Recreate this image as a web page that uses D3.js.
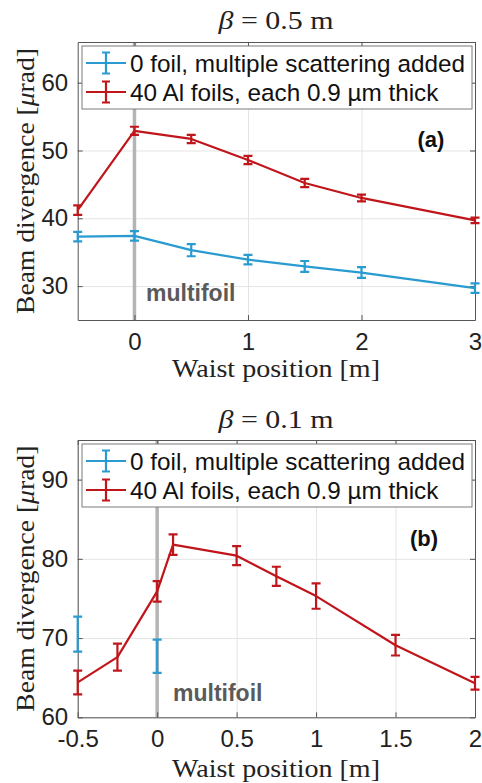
<!DOCTYPE html>
<html>
<head>
<meta charset="utf-8">
<script src="https://cdn.jsdelivr.net/npm/d3@7/dist/d3.min.js"></script>
<style>
  body { margin: 0; background: #fff; }
  svg { display: block; }
</style>
</head>
<body>
<div id="chart"></div>
<script>
// panel (a): beta = 0.5 m
const xA = [-0.5, 0, 0.5, 1, 1.5, 2, 3]
const blueA = [37.3, 37.4, 35.3, 33.9, 32.9, 32.0, 29.7]
const blueErrA = [0.7, 0.7, 0.9, 0.7, 0.8, 0.8, 0.7]
const redA = [41.2, 52.9, 51.7, 48.6, 45.2, 43.0, 39.7]
const redErrA = [0.7, 0.6, 0.6, 0.6, 0.6, 0.5, 0.4]
const xTicksA = [0, 1, 2, 3]
const yTicksA = [30, 40, 50, 60]

// panel (b): beta = 0.1 m
const xBlueB = [-0.5, 0]
const blueB = [70.5, 67.7]
const blueErrB = [2.2, 2.1]
const xRedB = [-0.5, -0.25, 0, 0.1, 0.5, 0.75, 1, 1.5, 2]
const redB = [64.4, 67.6, 75.9, 81.8, 80.4, 77.8, 75.3, 69.1, 64.3]
const redErrB = [1.5, 1.7, 1.3, 1.3, 1.2, 1.2, 1.6, 1.3, 0.8]
const xTicksB = [-0.5, 0, 0.5, 1, 1.5, 2]
const yTicksB = [60, 70, 80, 90]

const legendLabels = ["0 foil, multiple scattering added", "40 Al foils, each 0.9 \u00b5m thick"]

const BLUE = "#2a9bd1"
const RED = "#c0161b"
const SANS = "'Liberation Sans', Arial, Helvetica, sans-serif"
const SERIF = "'Liberation Serif', 'DejaVu Serif', serif"

const svg = d3.select("#chart").append("svg")
    .attr("width", 482)
    .attr("height", 783)

const zip = (xs, ys, es) => xs.map((x, i) => ({ x, y: ys[i], e: es[i] }))

function drawPanel(opt){
    const { top, bottom, left, right } = opt
    const x = d3.scaleLinear().domain(opt.xDomain).range([left, right])
    const y = d3.scaleLinear().domain(opt.yDomain).range([bottom, top])
    const g = svg.append("g")

    // title
    const title = g.append("text")
        .attr("x", 276).attr("y", opt.titleY)
        .attr("text-anchor", "middle")
        .attr("textLength", 115).attr("lengthAdjust", "spacingAndGlyphs")
        .style("font-family", SERIF).style("font-size", "25px").style("fill", "#222")
    title.append("tspan").style("font-style", "italic").text("\u03b2")
    title.append("tspan").text(" = " + opt.beta + " m")

    // grid
    g.append("g").attr("transform", `translate(0,${bottom})`)
        .call(d3.axisBottom(x).tickValues(opt.xTicks).tickSize(-(bottom - top)).tickFormat(""))
        .call(a => a.select(".domain").remove())
        .call(a => a.selectAll("line").attr("stroke", "#e4e4e4").attr("stroke-width", 1))
    g.append("g").attr("transform", `translate(${left},0)`)
        .call(d3.axisLeft(y).tickValues(opt.yTicks).tickSize(-(right - left)).tickFormat(""))
        .call(a => a.select(".domain").remove())
        .call(a => a.selectAll("line").attr("stroke", "#e4e4e4").attr("stroke-width", 1))

    // multifoil marker at waist 0
    g.append("line")
        .attr("x1", x(0)).attr("x2", x(0))
        .attr("y1", top).attr("y2", bottom)
        .attr("stroke", "#b4b4b4").attr("stroke-width", 3.5)
    g.append("text")
        .attr("x", opt.mfX).attr("y", opt.mfY)
        .style("font-family", SANS).style("font-size", "23px").style("font-weight", "bold")
        .style("fill", "#5a5a5a")
        .text("multifoil")

    // axes (inward ticks, MATLAB box)
    const fmt = d => String(d)
    const styleAxis = a => {
        a.select(".domain").attr("stroke", "#555")
        a.selectAll(".tick line").attr("stroke", "#555")
        a.selectAll("text").style("font-family", SANS).style("font-size", "24px").attr("fill", "#222")
    }
    g.append("g").attr("transform", `translate(0,${bottom})`)
        .call(d3.axisBottom(x).tickValues(opt.xTicks).tickSizeInner(-5).tickSizeOuter(0).tickPadding(13).tickFormat(fmt))
        .call(styleAxis)
    g.append("g").attr("transform", `translate(0,${top})`)
        .call(d3.axisTop(x).tickValues(opt.xTicks).tickSizeInner(-5).tickSizeOuter(0).tickFormat(""))
        .call(styleAxis)
    g.append("g").attr("transform", `translate(${left},0)`)
        .call(d3.axisLeft(y).tickValues(opt.yTicks).tickSizeInner(-5).tickSizeOuter(0).tickPadding(9.5).tickFormat(fmt))
        .call(styleAxis)
    g.append("g").attr("transform", `translate(${right},0)`)
        .call(d3.axisRight(y).tickValues(opt.yTicks).tickSizeInner(-5).tickSizeOuter(0).tickFormat(""))
        .call(styleAxis)

    // series
    const line = d3.line().x(d => x(d.x)).y(d => y(d.y))
    opt.series.forEach(s => {
        if (s.line) {
            g.append("path").datum(s.data)
                .attr("fill", "none").attr("stroke", s.color).attr("stroke-width", 2.2)
                .attr("stroke-linejoin", "round")
                .attr("d", line)
        }
        const eb = g.append("g").attr("stroke", s.color).attr("stroke-width", 2.2).attr("fill", "none")
        eb.selectAll("path").data(s.data).enter().append("path")
            .attr("d", d => {
                const cx = x(d.x), y0 = y(d.y - d.e), y1 = y(d.y + d.e), c = 4.5
                return `M${cx},${y0}V${y1}M${cx - c},${y0}H${cx + c}M${cx - c},${y1}H${cx + c}`
            })
    })

    // panel tag
    g.append("text")
        .attr("x", opt.tagX).attr("y", opt.tagY)
        .attr("text-anchor", "middle")
        .style("font-family", SANS).style("font-size", "22px").style("font-weight", "bold")
        .style("fill", "#111")
        .text(opt.tag)

    // legend
    const lg = g.append("g").attr("transform", `translate(82,${top + 4})`)
    lg.append("rect")
        .attr("width", 390).attr("height", 63)
        .attr("fill", "#fff").attr("stroke", "#7a7a7a").attr("stroke-width", 1)
    ;[BLUE, RED].forEach((c, i) => {
        const cy = 17 + i * 29
        const row = lg.append("g").attr("stroke", c).attr("stroke-width", 2.2)
        row.append("line").attr("x1", 4).attr("x2", 44).attr("y1", cy).attr("y2", cy)
        row.append("path").attr("fill", "none")
            .attr("d", `M24,${cy - 10.5}V${cy + 10.5}M20,${cy - 10.5}H28M20,${cy + 10.5}H28`)
        lg.append("text")
            .attr("x", 48).attr("y", cy + 8.5)
            .style("font-family", SANS).style("font-size", "24.3px").style("fill", "#111")
            .text(legendLabels[i])
    })

    // x label
    g.append("text")
        .attr("x", 276).attr("y", opt.xLabelY)
        .attr("text-anchor", "middle")
        .attr("textLength", 208).attr("lengthAdjust", "spacingAndGlyphs")
        .style("font-family", SERIF).style("font-size", "25px").style("fill", "#222")
        .text("Waist position [m]")

    // y label
    const yl = g.append("text")
        .attr("transform", `translate(34,${(top + bottom) / 2}) rotate(-90)`)
        .attr("text-anchor", "middle")
        .attr("textLength", 266).attr("lengthAdjust", "spacingAndGlyphs")
        .style("font-family", SERIF).style("font-size", "25px").style("fill", "#222")
    yl.append("tspan").text("Beam divergence [")
    yl.append("tspan").style("font-style", "italic").text("\u03bc")
    yl.append("tspan").text("rad]")
}

drawPanel({
    top: 42, bottom: 320, left: 77.7, right: 475,
    xDomain: [-0.5, 3], yDomain: [25, 66],
    xTicks: xTicksA, yTicks: yTicksA,
    beta: "0.5", titleY: 29, xLabelY: 377,
    mfX: 146, mfY: 301, tag: "(a)", tagX: 431, tagY: 147,
    series: [
        { color: BLUE, line: true, data: zip(xA, blueA, blueErrA) },
        { color: RED, line: true, data: zip(xA, redA, redErrA) }
    ]
})

drawPanel({
    top: 440, bottom: 717.3, left: 77.7, right: 475,
    xDomain: [-0.5, 2], yDomain: [60, 95],
    xTicks: xTicksB, yTicks: yTicksB,
    beta: "0.1", titleY: 428, xLabelY: 777,
    mfX: 173, mfY: 701, tag: "(b)", tagX: 424, tagY: 546,
    series: [
        { color: BLUE, line: false, data: zip(xBlueB, blueB, blueErrB) },
        { color: RED, line: true, data: zip(xRedB, redB, redErrB) }
    ]
})
</script>
</body>
</html>
